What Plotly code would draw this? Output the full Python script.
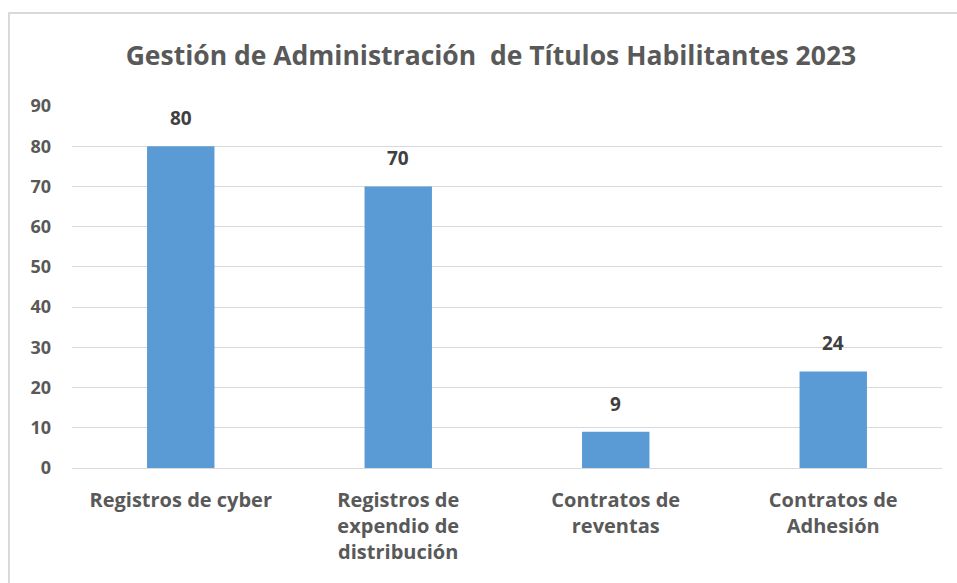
import plotly.graph_objects as go

categories = ["Registros de cyber", "Registros de<br>expendio de<br>distribución",
              "Contratos de<br>reventas", "Contratos de<br>Adhesión"]
values = [80, 70, 9, 24]
y_ticks = [0, 10, 20, 30, 40, 50, 60, 70, 80, 90]
title_text = "Gestión de Administración  de Títulos Habilitantes 2023"

FONT = "Open Sans"
GRAY = "#595959"

fig = go.Figure()
fig.add_trace(go.Bar(
    x=categories, y=values,
    marker=dict(color="#5B9BD5", line=dict(width=0)),
))

for c, v in zip(categories, values):
    fig.add_annotation(x=c, y=v, text=str(v), showarrow=False, yanchor="bottom",
                       yshift=13, font=dict(family=FONT, size=19, color="#404040", weight="bold"))

fig.update_layout(
    width=957, height=583,
    margin=dict(l=72, r=15, t=106, b=115),
    paper_bgcolor="white", plot_bgcolor="white",
    bargap=0.69,
    showlegend=False,
    title=dict(text=title_text, x=0.513, xanchor="center", y=0.905, yanchor="middle",
               font=dict(family=FONT, size=26.5, color=GRAY, weight="bold")),
    xaxis=dict(showgrid=False, showline=False, ticks="",
               tickfont=dict(family=FONT, size=20, color=GRAY, weight="bold"),
               ticklabelstandoff=18),
    yaxis=dict(range=[0, 90], tickvals=y_ticks, showgrid=True, gridcolor="#D9D9D9",
               gridwidth=1, zeroline=True, zerolinecolor="#D9D9D9", zerolinewidth=1,
               showline=False, ticks="",
               tickfont=dict(family=FONT, size=18, color=GRAY, weight="bold"),
               ticklabelstandoff=20),
    shapes=[dict(type="rect", xref="paper", yref="paper",
                 x0=-0.0724, x1=1.03, y0=-0.45, y1=1.2569,
                 line=dict(color="#D9D9D9", width=2), layer="below")],
)

fig.write_html("out.html")
